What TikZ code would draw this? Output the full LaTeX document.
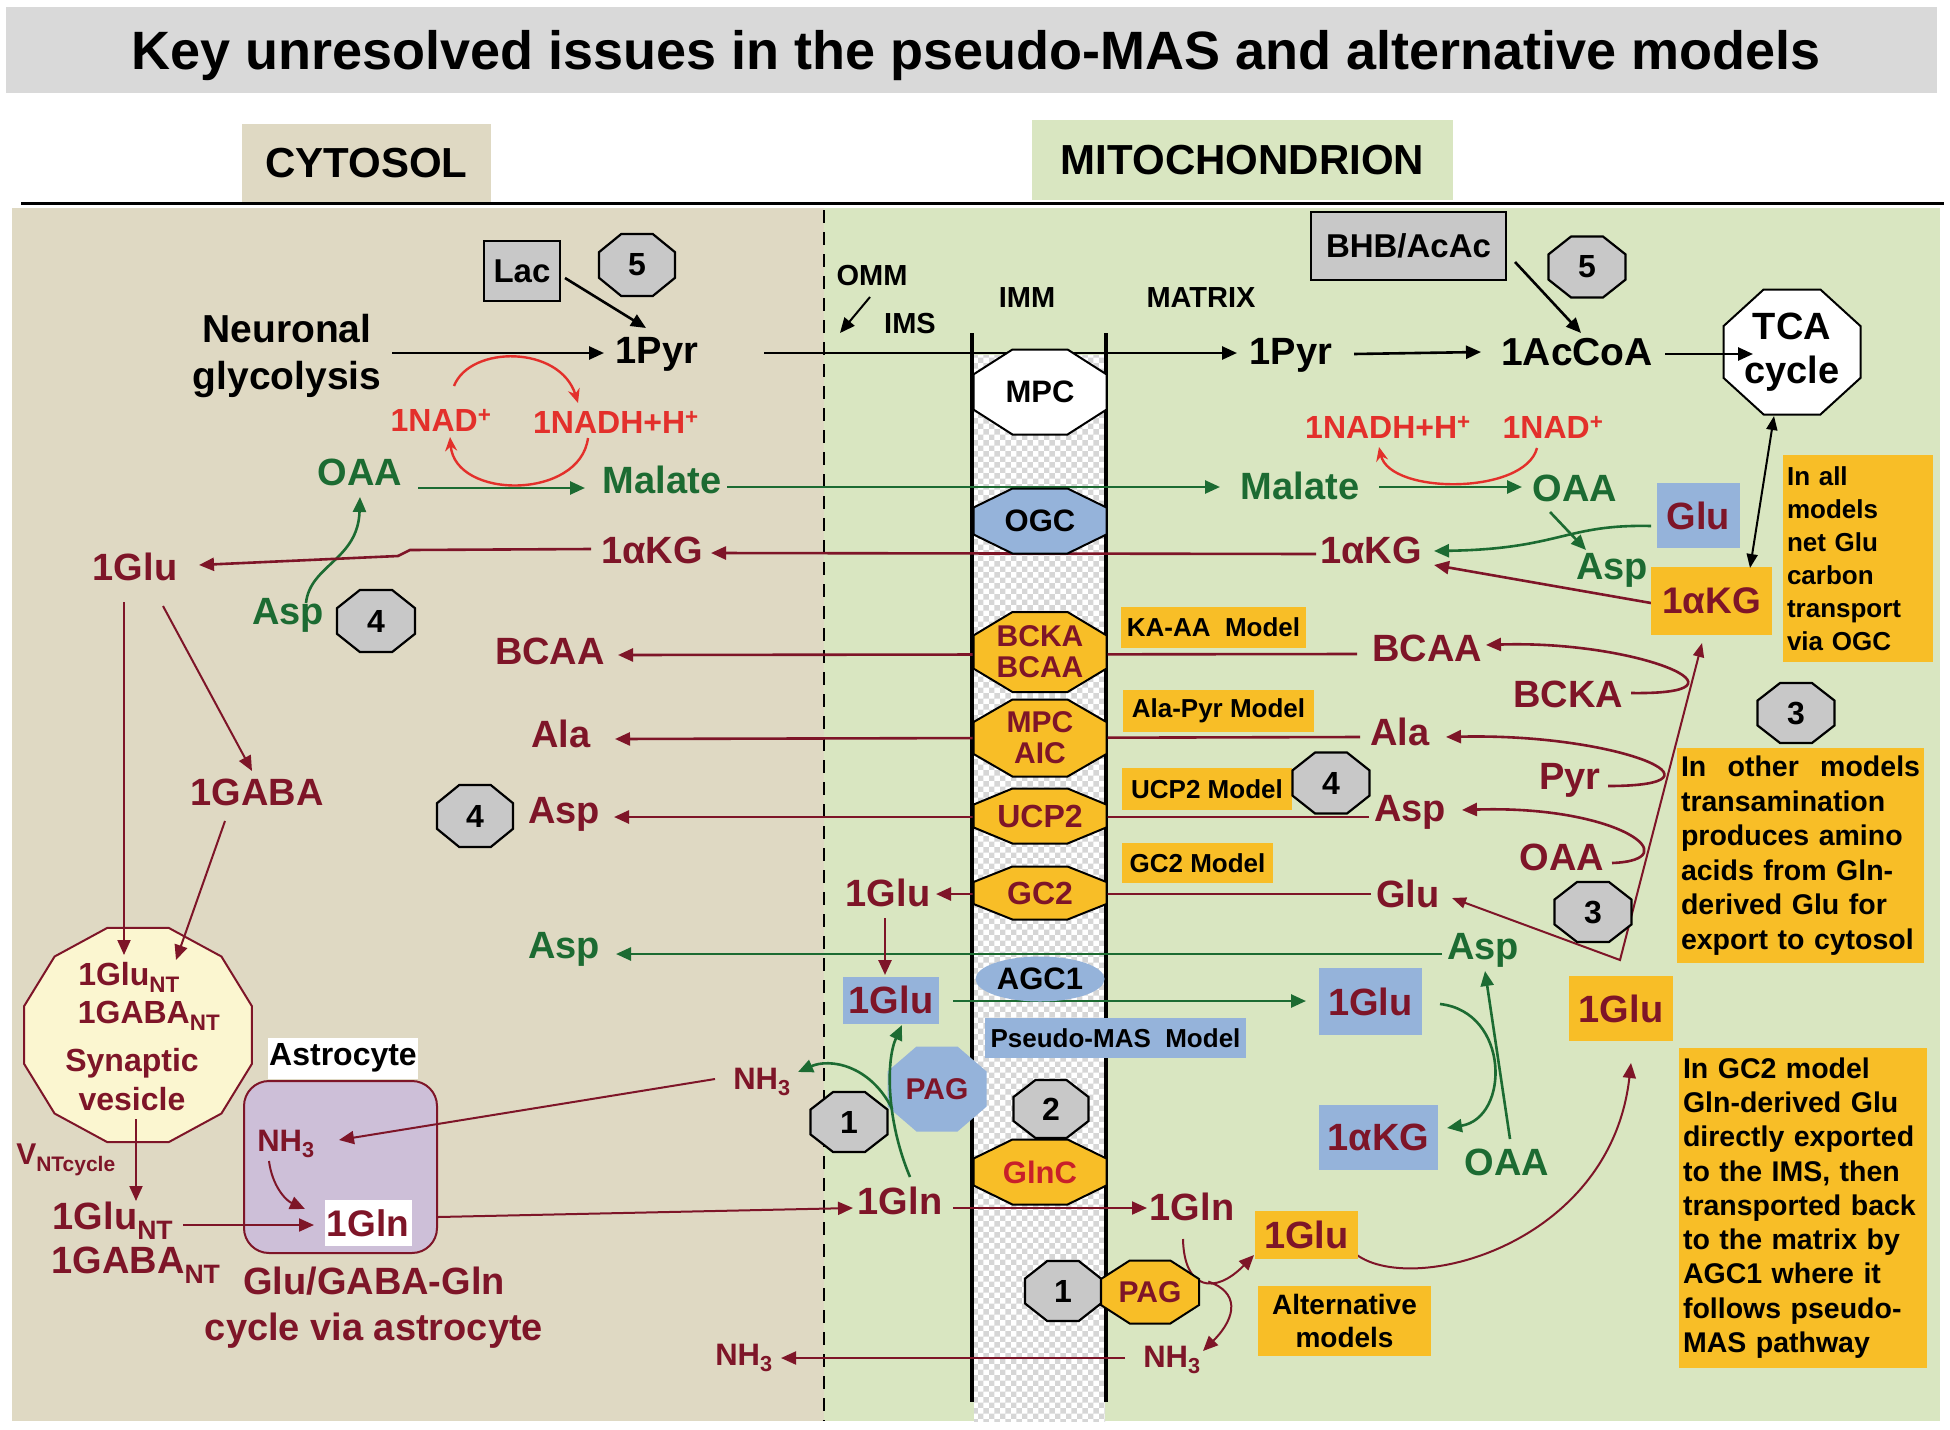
\documentclass[tikz,border=0pt]{standalone}
\usepackage{fontspec}
\setmainfont{Liberation Sans}
\usetikzlibrary{arrows.meta,calc,patterns,shapes.geometric}
\pgfdeclarelayer{bgl}
\pgfdeclarelayer{conn}
\pgfsetlayers{bgl,conn,main}
\definecolor{dred}{HTML}{7E1528}
\definecolor{dgreen}{HTML}{1C6B32}
\definecolor{nadred}{HTML}{E3302B}
\definecolor{glncred}{HTML}{C8202A}
\definecolor{orng}{HTML}{F8BE27}
\definecolor{lblue}{HTML}{95B3DA}
\definecolor{tanbg}{HTML}{DFD9C3}
\definecolor{grnbg}{HTML}{D9E6C1}
\definecolor{octgrey}{HTML}{C8C8C8}
\definecolor{titlegrey}{HTML}{D9D9D9}
\definecolor{vesfill}{HTML}{FBF6D0}
\definecolor{astfill}{HTML}{CDBFD8}
\newcommand\fsz[2]{\fontsize{#1}{#2}\selectfont\bfseries}
\newcommand\octpath[5]{\path[#1] ({#2+0.2071*(#4)},{#3-0.5*(#5)}) -- ({#2+0.5*(#4)},{#3-0.2071*(#5)}) -- ({#2+0.5*(#4)},{#3+0.2071*(#5)}) -- ({#2+0.2071*(#4)},{#3+0.5*(#5)}) -- ({#2-0.2071*(#4)},{#3+0.5*(#5)}) -- ({#2-0.5*(#4)},{#3+0.2071*(#5)}) -- ({#2-0.5*(#4)},{#3-0.2071*(#5)}) -- ({#2-0.2071*(#4)},{#3-0.5*(#5)}) -- cycle;}
\newcommand\octnode[8]{\octpath{#1}{#3}{#4}{#5}{#6}\node[#7, minimum width=#5pt, minimum height=#6pt] (#2) at (#3,#4) {#8};}
\tikzset{
 met/.style={inner sep=5pt, font=\fsz{38}{44}},
 mr/.style={met,text=dred},
 mg/.style={met,text=dgreen},
 mk/.style={met,text=black},
 nadlab/.style={inner sep=4pt,text=nadred,font=\fsz{32}{36}},
 nhlab/.style={inner sep=4pt,text=dred,font=\fsz{31}{36}},
 numtxt/.style={inner sep=0pt,font=\fsz{32}{34}},
 trtxt/.style={inner sep=0pt,align=center,font=\fsz{31}{31}},
 greyoct/.style={fill=octgrey,draw=black,line width=2.2pt},
 orngoct/.style={fill=orng,draw=black,line width=2pt},
 whiteoct/.style={fill=white,draw=black,line width=2pt},
 blueoct/.style={fill=lblue,draw=black,line width=2pt},
 modelbox/.style={fill=orng,inner sep=0pt,font=\fsz{26}{28}},
 orngbox/.style={fill=orng,inner sep=0pt},
 bluebox/.style={fill=lblue,inner sep=0pt},
 greybox/.style={fill=octgrey,draw=black,line width=2pt,inner sep=0pt},
 notebox/.style={fill=orng,inner sep=4pt,align=left},
 arr/.style={line width=2.6pt,-{Triangle[length=15pt,width=13pt]}},
 rarr/.style={arr,dred},
 garr/.style={arr,dgreen},
 karr/.style={arr,black},
 narr/.style={line width=2.4pt,nadred,-{Stealth[length=14pt,width=12pt]}},
 dbl/.style={line width=2pt,{Triangle[length=14pt,width=11pt]}-{Triangle[length=14pt,width=11pt]}},
}
\begin{document}
\begin{tikzpicture}[x=1pt,y=-1pt]
\useasboundingbox (0,0) rectangle (1950,1429);
\begin{pgfonlayer}{bgl}
\fill[white] (0,0) rectangle (1950,1429);
\fill[tanbg] (12,208) rectangle (824,1421);
\fill[grnbg] (824,208) rectangle (1940,1421);
\fill[white] (974,355) rectangle (1105,1421);
\fill[pattern=checkerboard, pattern color=black!16] (974,355) rectangle (1105,1421);
\draw[line width=4pt] (972,333) -- (972,1402);
\draw[line width=4pt] (1106,333) -- (1106,1402);
\draw[line width=2.5pt, dash pattern=on 13pt off 9pt] (824,210) -- (824,1421);
\end{pgfonlayer}

% header
\node[fill=titlegrey, minimum width=1931pt, minimum height=86pt, inner sep=0pt] (titlebar) at (971.5,50) {};
\node[inner sep=0pt, font=\fsz{54}{60}] (title) at (976,56) {Key unresolved issues in the pseudo-MAS and alternative models};
\node[fill=tanbg, minimum width=249pt, minimum height=78pt, inner sep=0pt, font=\fsz{42}{44}] (cytlab) at (366.5,163) {CYTOSOL};
\node[fill=grnbg, minimum width=421pt, minimum height=80pt, inner sep=0pt, font=\fsz{42}{44}] (mitlab) at (1242.5,160) {MITOCHONDRION};
\draw[line width=3pt] (21,203) -- (1944,203);

% cytosol
\node[greybox, minimum width=76pt, minimum height=60pt, font=\fsz{33}{36}] (lac) at (522,271) {Lac};
\octnode{greyoct}{oct5a}{637}{265}{76}{62}{numtxt}{5}
\node[mk, align=center, font=\fsz{39}{47}] (glyco) at (287,356) {Neuronal\\glycolysis};
\node[mk] (pyrc) at (657,354) {1Pyr};
\node[nadlab] (nad1) at (441,420) {1NAD\textsuperscript{+}};
\node[nadlab] (nadh1) at (616,422) {1NADH+H\textsuperscript{+}};
\node[mg] (oaac) at (360,472) {OAA};
\node[mg] (malc) at (662,480) {Malate};
\node[mr] (gluc) at (135,567) {1Glu};
\node[mr] (akgc) at (652,550) {1αKG};
\node[mg] (aspc1) at (288,615) {Asp};
\octnode{greyoct}{oct4a}{376}{621}{78}{62}{numtxt}{4}
\node[mr] (bcaac) at (550,651) {BCAA};
\node[mr] (alac) at (561,734) {Ala};
\node[mr] (aspc2) at (564,814) {Asp};
\octnode{greyoct}{oct4b}{475}{816}{76}{62}{numtxt}{4}
\node[mr] (gabac) at (257,792) {1GABA};
\node[mg] (aspc3) at (564,949) {Asp};
\filldraw[fill=vesfill, draw=dred, line width=2pt] plot[samples at={15,45,...,345}] ({138+118*cos(\x)},{1035-111*sin(\x)}) -- cycle;
\node[minimum width=236pt, minimum height=222pt, inner sep=0pt] (ves) at (138,1035) {};
\node[mr, font=\fsz{32}{36}] (glunt) at (129,977) {1Glu\textsubscript{NT}};
\node[mr, font=\fsz{32}{36}] (gabant) at (149,1016) {1GABA\textsubscript{NT}};
\node[mr, align=center, font=\fsz{32}{39}] (synv) at (132,1080) {Synaptic\\vesicle};
\node[mr, font=\fsz{30}{34}] (vnt) at (66,1160) {V\textsubscript{NTcycle}};
\node[mr] (glunt2) at (113,1221) {1Glu\textsubscript{NT}};
\node[mr] (gabant2) at (136,1265) {1GABA\textsubscript{NT}};
\node[fill=white, minimum width=150pt, minimum height=41pt, inner sep=0pt, font=\fsz{32}{34}] (astrolab) at (343,1058) {Astrocyte};
\node[draw=dred, line width=2pt, fill=astfill, rounded corners=25pt, minimum width=193pt, minimum height=172pt] (astro) at (340.5,1167) {};
\node[nhlab] (nh3a) at (286,1144) {NH\textsubscript{3}};
\node[fill=white, minimum width=87pt, minimum height=46pt, inner sep=0pt, text=dred, font=\fsz{37}{40}] (glna) at (368,1223) {1Gln};
\node[mr, align=center, font=\fsz{38}{46}] (cyclelab) at (374,1308) {Glu/GABA-Gln\\cycle via astrocyte};
\node[nhlab] (nh3c) at (762,1082) {NH\textsubscript{3}};
\node[mr] (glnims) at (900,1201) {1Gln};
\node[nhlab] (nh3b) at (744,1358) {NH\textsubscript{3}};

% IMS / IMM
\node[mk, font=\fsz{29}{32}] (omm) at (872,276) {OMM};
\node[mk, font=\fsz{29}{32}] (ims) at (910,324) {IMS};
\node[mk, font=\fsz{29}{32}] (imm) at (1027,298) {IMM};
\node[mk, font=\fsz{29}{32}] (mtxlab) at (1201,298) {MATRIX};
\node[mr] (glu1ims) at (888,893) {1Glu};
\node[bluebox, minimum width=96pt, minimum height=47pt, text=dred, font=\fsz{38}{40}] (gluboxims) at (891,1000) {1Glu};
\octnode{fill=lblue}{pagims}{937}{1089}{99}{85}{inner sep=0pt,text=dred,font=\fsz{30}{32}}{PAG}
\octnode{greyoct}{oct1a}{849}{1122}{77}{60}{numtxt}{1}
\octnode{greyoct}{oct2}{1051}{1109}{75}{58}{numtxt}{2}
\octnode{whiteoct}{mpc}{1040}{392}{133}{85}{trtxt}{MPC}
\octnode{blueoct}{ogc}{1040}{521}{133}{65}{trtxt}{OGC}
\octnode{orngoct}{bcka}{1040}{652}{133}{80}{trtxt,text=dred,font=\fsz{30}{31}}{BCKA\\BCAA}
\octnode{orngoct}{mpcaic}{1040}{738}{133}{77}{trtxt,text=dred,font=\fsz{30}{31}}{MPC\\AIC}
\octnode{orngoct}{ucp2}{1040}{816}{133}{55}{trtxt,text=dred,font=\fsz{32}{34}}{UCP2}
\octnode{orngoct}{gc2}{1040}{893}{133}{53}{trtxt,text=dred,font=\fsz{32}{34}}{GC2}
\node[ellipse, fill=lblue, minimum width=129pt, minimum height=45pt, inner sep=0pt, font=\fsz{31}{33}] (agc1) at (1040,979) {AGC1};
\node[bluebox, minimum width=261pt, minimum height=40pt, font=\fsz{26}{28}] (pmas) at (1115.5,1038) {Pseudo-MAS\ \ Model};
\octnode{orngoct}{glnc}{1040}{1172}{133}{65}{trtxt,text=glncred}{GlnC}
\octnode{greyoct}{oct1b}{1063}{1291}{76}{60}{numtxt}{1}
\octnode{orngoct}{pagm}{1150}{1292}{98}{63}{trtxt,text=dred,font=\fsz{30}{32}}{PAG}

% model labels
\node[modelbox, minimum width=185pt, minimum height=41pt] (kaaa) at (1213.5,627.5) {KA-AA\ \ Model};
\node[modelbox, minimum width=191pt, minimum height=42pt] (alapyr) at (1218.5,711) {Ala-Pyr Model};
\node[modelbox, minimum width=170pt, minimum height=42pt] (ucp2m) at (1207,789) {UCP2 Model};
\octnode{greyoct}{oct4c}{1331}{783}{77}{61}{numtxt}{4}
\node[modelbox, minimum width=151pt, minimum height=40pt] (gc2m) at (1197.5,863) {GC2 Model};

% matrix
\node[greybox, minimum width=195pt, minimum height=68pt, font=\fsz{33}{36}] (bhb) at (1408.5,246) {BHB/AcAc};
\octnode{greyoct}{oct5b}{1587}{267}{77}{61}{numtxt}{5}
\node[mk] (pyrm) at (1291,355) {1Pyr};
\node[mk, font=\fsz{39}{44}] (accoa) at (1577,352) {1AcCoA};
\octnode{whiteoct}{tca}{1792}{352}{137}{125}{trtxt,font=\fsz{38}{44}}{TCA\\cycle}
\node[nadlab] (nadhm) at (1388,427) {1NADH+H\textsuperscript{+}};
\node[nadlab] (nadm) at (1553,427) {1NAD\textsuperscript{+}};
\node[mg] (malm) at (1300,486) {Malate};
\node[mg] (oaam) at (1575,488) {OAA};
\node[bluebox, minimum width=83pt, minimum height=65pt, text=dred, font=\fsz{38}{40}] (glubox) at (1698.5,515.5) {Glu};
\node[mg] (aspm1) at (1612,570) {Asp};
\node[mr] (akgm) at (1371,550) {1αKG};
\node[orngbox, minimum width=121pt, minimum height=68pt, text=dred, font=\fsz{37}{40}] (akgbox) at (1711.5,601) {1αKG};
\node[notebox, minimum width=150pt, minimum height=207pt, text width=142pt, font=\fsz{26}{33}] (allbox) at (1858,558.5) {In all\\models\\net Glu\\carbon\\transport\\via OGC};
\node[mr] (bcaam) at (1427,648) {BCAA};
\node[mr] (bckam) at (1568,694) {BCKA};
\node[mr] (alam) at (1400,732) {Ala};
\node[mr] (pyrm2) at (1570,780) {Pyr};
\node[mr] (aspm2) at (1410,812) {Asp};
\node[mr] (oaam2) at (1562,857) {OAA};
\node[mr] (glum) at (1408,894) {Glu};
\octnode{greyoct}{oct3a}{1593}{912}{77}{60}{numtxt}{3}
\octnode{greyoct}{oct3b}{1796}{713}{77}{60}{numtxt}{3}
\node[mg] (aspm3) at (1483,950) {Asp};
\node[notebox, minimum width=247pt, minimum height=215pt, text width=239pt, font=\fsz{28.5}{34.5}] (otherbox) at (1800.5,855.5) {In\hfill other\hfill models\\transamination\\produces amino\\acids from Gln-\\derived Glu for\\export to cytosol};
\node[orngbox, minimum width=104pt, minimum height=65pt, text=dred, font=\fsz{38}{40}] (glubox2) at (1621,1008.5) {1Glu};
\node[notebox, minimum width=248pt, minimum height=320pt, text width=240pt, font=\fsz{28.5}{34.3}] (gc2box) at (1803,1208) {In GC2 model\\Gln-derived Glu\\directly exported\\to the IMS, then\\transported back\\to the matrix by\\AGC1 where it\\follows pseudo-\\MAS pathway};
\node[bluebox, minimum width=103pt, minimum height=67pt, text=dred, font=\fsz{38}{40}] (glubm) at (1370.5,1001.5) {1Glu};
\node[bluebox, minimum width=119pt, minimum height=65pt, text=dred, font=\fsz{38}{40}] (akgbm) at (1378.5,1137.5) {1αKG};
\node[mg] (oaam3) at (1507,1162) {OAA};
\node[mr] (glnm) at (1192,1207) {1Gln};
\node[orngbox, minimum width=103pt, minimum height=48pt, text=dred, font=\fsz{38}{40}] (glubox3) at (1306.5,1235) {1Glu};
\node[orngbox, minimum width=173pt, minimum height=70pt, align=center, font=\fsz{28}{33}] (altbox) at (1344.5,1321) {Alternative\\models};
\node[nhlab] (nh3m) at (1172,1360) {NH\textsubscript{3}};

% connectors drawn on top of shapes
\draw[karr] ($(accoa)+(88,2)$) -- ($(tca)+(-39,2)$);
\draw[dbl] ($(tca)+(-18,64)$) -- ($(akgbox)+(38.5,-33)$);
\draw[garr] ($(glnims)+(10,-24)$) .. controls +(-24,-57) and +(-16,35) .. coordinate[pos=0.4] (gsplit) ($(gluboxims)+(11,25)$);
\draw[garr] (gsplit) .. controls +(-22,-44) and +(32,-14) .. ($(nh3c)+(36,-10)$);
\draw[rarr,line width=2pt] ($(gluc)+(-11,35)$) -- ($(glunt)+(-5,-22)$);
\draw[rarr,line width=2pt] ($(gluc)+(28,39)$) -- ($(gabac)+(-5,-21)$);
\draw[rarr,line width=2pt] ($(gabac)+(-32,29)$) -- ($(glunt)+(47,-17)$);
\draw[rarr,line width=2pt] ($(synv)+(4,39)$) -- ($(glunt2)+(23,-20)$);
\draw[rarr,line width=2pt] ($(glunt2)+(70,4)$) -- ($(glna)+(-54,2)$);
\draw[rarr,line width=2pt] ($(nh3a)+(-17,17)$) .. controls +(3,24) and +(-20,-9) .. ($(glna)+(-63,-14)$);
\draw[rarr,line width=2pt] ($(nh3c)+(-47,-3)$) -- ($(nh3a)+(53,-4)$);

\begin{pgfonlayer}{conn}
\draw[karr] ($(lac)+(43,7)$) -- ($(pyrc)+(-11,-26)$);
\draw[karr] ($(glyco)+(105,-3)$) -- ($(pyrc)+(-53,-1)$);
\draw[karr] ($(pyrc)+(107,-1)$) -- ($(pyrm)+(-54,-2)$);
\draw[karr] ($(pyrm)+(63,-1)$) -- ($(accoa)+(-96,0)$);
\draw[karr] ($(bhb)+(106.5,16)$) -- ($(accoa)+(4,-19)$);
\draw[karr,line width=2pt] ($(omm)+(-2,21)$) -- ($(omm)+(-32,57)$);
\draw[narr] ($(nad1)+(13,-34)$) .. controls +(16,-41) and +(-18,-58) .. ($(nadh1)+(-38,-19)$);
\draw[narr] ($(nadh1)+(-28,16)$) .. controls +(-8,62) and +(5,63) .. ($(nad1)+(9,17)$);
\draw[narr] ($(nadm)+(-16,21)$) .. controls +(-12,47) and +(11,48) .. ($(nadhm)+(-9,20)$);
\draw[garr] ($(oaac)+(58,16)$) -- ($(malc)+(-77,8)$);
\draw[garr] ($(aspc1)+(18,-12)$) .. controls +(4,-38) and +(-2,63) .. ($(oaac)+(0,25)$);
\draw[garr] ($(malc)+(65,7)$) -- ($(malm)+(-80,1)$);
\draw[garr] ($(malm)+(79,1)$) -- ($(oaam)+(-53,-1)$);
\draw[garr] ($(glubox)+(-47.5,10.5)$) .. controls +(-86,-2) and +(126,-2) .. ($(akgm)+(63,1)$);
\draw[garr] ($(oaam)+(-25,24)$) -- ($(aspm1)+(-26,-20)$);
\draw[garr] ($(aspm3)+(-41,4)$) -- ($(aspc3)+(52,5)$);
\draw[garr] ($(gluboxims)+(62,1)$) -- ($(glubm)+(-64.5,-0.5)$);
\draw[garr] ($(oaam3)+(3,-23)$) -- ($(aspm3)+(2,21)$);
\draw[garr] ($(glubm)+(69.5,2.5)$) .. controls +(70,8) and +(63,-10) .. ($(akgbm)+(68.5,-9.5)$);
\draw[rarr] ($(akgm)+(-55,4)$) -- ($(akgc)+(59,3)$);
\draw[rarr] ($(akgc)+(-61,-1)$) -- ++(-181,1) -- ++(-12,6) -- ($(gluc)+(64,-2)$);
\draw[rarr] ($(akgbox)+(-60.5,2)$) -- ($(akgm)+(63,15)$);
\draw[rarr] ($(bcaam)+(-70,6)$) -- ($(bcaac)+(68,4)$);
\draw[rarr] ($(alam)+(-40,5)$) -- ($(alac)+(54,5)$);
\draw[rarr] ($(aspm2)+(-41,5)$) -- ($(aspc2)+(50,3)$);
\draw[rarr] ($(glum)+(-37,0)$) -- ($(glu1ims)+(48,1)$);
\draw[rarr] ($(glu1ims)+(-3,25)$) -- ($(gluboxims)+(-6,-25)$);
\draw[rarr,line width=2pt] ($(glna)+(70,-6)$) -- ($(glnims)+(-47,7)$);
\draw[rarr,line width=2pt] ($(glnims)+(53,7)$) -- ($(glnm)+(-45,1)$);
\draw[rarr,line width=2pt] ($(glnm)+(-9,32)$) .. controls +(1,51) and +(-39,40) .. coordinate[pos=0.55] (psplit) ($(glubox3)+(-52.5,20)$);
\draw[rarr,line width=2pt] (psplit) .. controls +(30,10) and +(35,-35) .. ($(nh3m)+(31,-9)$);
\draw[rarr,line width=2pt] ($(nh3m)+(-47,-2)$) -- ($(nh3b)+(37,0)$);
\draw[rarr,line width=2pt] ($(glubox3)+(44.5,15)$) .. controls +(49,50) and +(-21,187) .. ($(glubox2)+(10,54.5)$);
\draw[rarr] ($(bckam)+(63,-1)$) .. controls +(134,2) and +(154,-5) .. ($(bcaam)+(59,-3)$);
\draw[rarr] ($(pyrm2)+(38,6)$) .. controls +(132,0) and +(174,-4) .. ($(alam)+(46,5)$);
\draw[rarr] ($(oaam2)+(50,6)$) .. controls +(78,-3) and +(158,-5) .. ($(aspm2)+(52,-2)$);
\coordinate (tvert) at (1620,960);
\draw[dbl,dred] ($(glum)+(44,4)$) -- (tvert) -- ($(akgbox)+(-9.5,42)$);
\end{pgfonlayer}
\end{tikzpicture}
\end{document}
